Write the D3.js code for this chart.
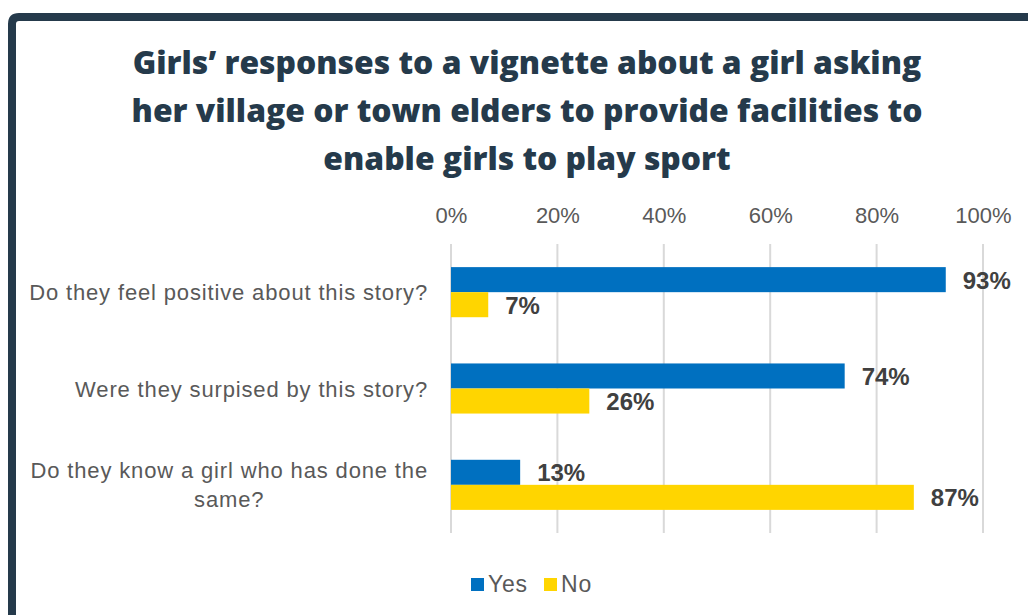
<!DOCTYPE html>
<html>
<head>
<meta charset="utf-8">
<script src="https://cdn.jsdelivr.net/npm/d3@7"></script>
<style>
  html, body { margin: 0; padding: 0; background: #ffffff; }
  svg { display: block; }
</style>
</head>
<body>
<svg id="chart" width="1028" height="615"></svg>
<script>
// Survey questions, one group of bars each
const categories = [
  "Do they feel positive about this story?",
  "Were they surpised by this story?",
  "Do they know a girl who has done the same?"
];
const seriesNames = ["Yes", "No"];
const yesValues = [93, 74, 13];
const noValues = [7, 26, 87];
const tickValues = [0, 20, 40, 60, 80, 100];
const titleLines = [
  "Girls\u2019 responses to a vignette about a girl asking",
  "her village or town elders to provide facilities to",
  "enable girls to play sport"
];

const colors = { Yes: "#0070C0", No: "#FFD500" };
const frameColor = "#253A4B";
const textGray = "#595959";
const sans = "Arial, 'Liberation Sans', sans-serif";

const svg = d3.select("#chart");

// Card frame: thick border visible along the top and left edges
svg.append("path")
  .attr("d", "M12,615 L12,24 Q12,17 19,17 L1040,17")
  .attr("fill", "none")
  .attr("stroke", frameColor)
  .attr("stroke-width", 8);

// Title
const titleEls = svg.append("g").attr("class", "title")
  .selectAll("text")
  .data(titleLines)
  .join("text")
  .attr("x", 527)
  .attr("y", (d, i) => 74 + i * 48)
  .attr("text-anchor", "middle")
  .attr("fill", frameColor)
  .attr("font-family", "'Open Sans', 'Noto Sans', sans-serif")
  .attr("font-weight", 800)
  .attr("font-size", 30)
  .text(d => d);
// fit the first line to its intended width and use that size for all lines
const w0 = titleEls.nodes()[0].getComputedTextLength();
titleEls.attr("font-size", 30 * 789 / w0);

// Scales
const x = d3.scaleLinear().domain([0, 100]).range([451, 983]);
const y = d3.scaleBand().domain(categories).range([244, 533]).paddingInner(0.48).paddingOuter(0.24);
const ySub = d3.scaleBand().domain(seriesNames).range([0, y.bandwidth()]);

// Gridlines
svg.append("g")
  .selectAll("line")
  .data(tickValues)
  .join("line")
  .attr("x1", d => x(d)).attr("x2", d => x(d))
  .attr("y1", 244).attr("y2", 533)
  .attr("stroke", "#D9D9D9")
  .attr("stroke-width", 2);

// Top axis labels
const axisTop = d3.axisTop(x).tickValues(tickValues).tickFormat(d => d + "%").tickSize(0).tickPadding(0);
const gx = svg.append("g").attr("transform", "translate(0,223)").call(axisTop);
gx.select(".domain").remove();
gx.selectAll("text")
  .attr("fill", textGray)
  .attr("font-family", sans)
  .attr("font-size", 22);

// Category labels (right aligned block, wrapped lines centered)
const catWrap = {
  "Do they know a girl who has done the same?": ["Do they know a girl who has done the", "same?"]
};
const labelRight = 428;
const gy = svg.append("g");
categories.forEach(c => {
  const lines = catWrap[c] || [c];
  const cy = y(c) + y.bandwidth() / 2;
  const lh = 29;
  const t = gy.append("text")
    .attr("fill", textGray)
    .attr("font-family", sans)
    .attr("font-size", 22)
    .attr("letter-spacing", 0.85);
  const spans = lines.map(l => t.append("tspan").text(l));
  const widths = spans.map(s => s.node().getComputedTextLength());
  const maxW = d3.max(widths);
  spans.forEach((s, i) => {
    s.attr("x", labelRight - maxW / 2)
      .attr("text-anchor", "middle")
      .attr("y", cy + 8 + (i - (lines.length - 1) / 2) * lh);
  });
});

// Bars
const rows = categories.map((c, i) => ({ cat: c, Yes: yesValues[i], No: noValues[i] }));
const groups = svg.append("g")
  .selectAll("g")
  .data(rows)
  .join("g")
  .attr("transform", d => `translate(0,${y(d.cat)})`);

groups.selectAll("rect")
  .data(d => seriesNames.map(s => ({ s, v: d[s] })))
  .join("rect")
  .attr("x", x(0))
  .attr("y", d => ySub(d.s))
  .attr("width", d => x(d.v) - x(0))
  .attr("height", ySub.bandwidth())
  .attr("fill", d => colors[d.s]);

groups.selectAll("text.val")
  .data(d => seriesNames.map(s => ({ s, v: d[s] })))
  .join("text")
  .attr("class", "val")
  .attr("x", d => x(d.v) + 17)
  .attr("y", d => ySub(d.s) + ySub.bandwidth() / 2 + 9)
  .attr("fill", "#404040")
  .attr("font-family", sans)
  .attr("font-weight", "bold")
  .attr("font-size", 24)
  .text(d => d.v + "%");

// Legend
const legend = svg.append("g").attr("transform", "translate(471,578)");
const legendX = { Yes: 0, No: 73 };
seriesNames.forEach(s => {
  const g = legend.append("g").attr("transform", `translate(${legendX[s]},0)`);
  g.append("rect").attr("width", 13).attr("height", 13).attr("fill", colors[s]);
  g.append("text")
    .attr("x", 17).attr("y", 13.5)
    .attr("fill", textGray)
    .attr("font-family", sans)
    .attr("font-size", 23)
    .attr("letter-spacing", 0.8)
    .text(s);
});
</script>
</body>
</html>
